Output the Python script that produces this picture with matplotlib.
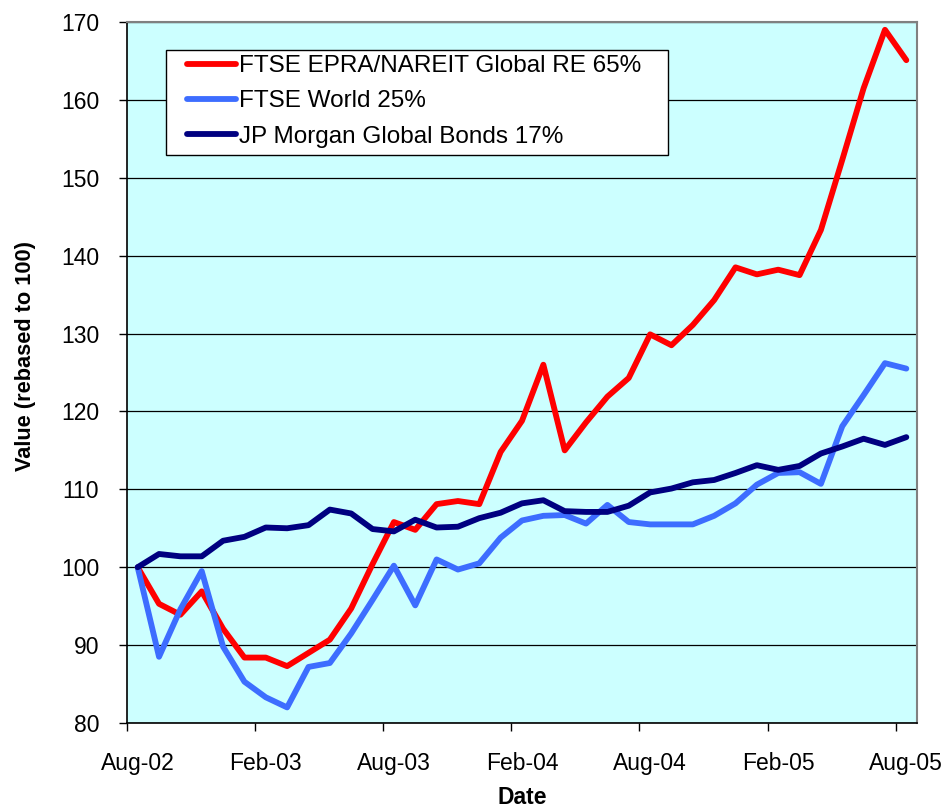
import matplotlib
matplotlib.use("Agg")
import matplotlib.pyplot as plt
from matplotlib.patches import Rectangle
import numpy as np

plt.rcParams['font.family'] = ['Liberation Sans', 'DejaVu Sans']

months = ["Aug-02","Sep-02","Oct-02","Nov-02","Dec-02","Jan-03","Feb-03","Mar-03","Apr-03","May-03",
          "Jun-03","Jul-03","Aug-03","Sep-03","Oct-03","Nov-03","Dec-03","Jan-04","Feb-04","Mar-04",
          "Apr-04","May-04","Jun-04","Jul-04","Aug-04","Sep-04","Oct-04","Nov-04","Dec-04","Jan-05",
          "Feb-05","Mar-05","Apr-05","May-05","Jun-05","Jul-05","Aug-05"]

ftse_epra = [100.0, 95.3, 93.9, 96.9, 92.1, 88.4, 88.4, 87.3, 89.0, 90.7,
             94.7, 100.4, 105.8, 104.8, 108.1, 108.5, 108.1, 114.8, 118.8, 126.0,
             115.0, 118.6, 121.9, 124.3, 129.9, 128.5, 131.1, 134.3, 138.5, 137.6,
             138.2, 137.5, 143.3, 152.3, 161.5, 169.0, 165.1]

ftse_world = [100.0, 88.5, 94.6, 99.5, 89.8, 85.3, 83.3, 82.0, 87.2, 87.7,
              91.5, 95.8, 100.2, 95.1, 101.0, 99.7, 100.5, 103.8, 106.0, 106.6,
              106.7, 105.6, 108.0, 105.8, 105.5, 105.5, 105.5, 106.6, 108.2, 110.6,
              112.1, 112.2, 110.7, 118.1, 122.1, 126.2, 125.5]

jpm_bonds = [100.0, 101.7, 101.4, 101.4, 103.4, 103.9, 105.1, 105.0, 105.4, 107.4,
             106.9, 104.9, 104.6, 106.1, 105.1, 105.2, 106.3, 107.0, 108.2, 108.6,
             107.2, 107.1, 107.1, 107.9, 109.6, 110.1, 110.9, 111.2, 112.1, 113.1,
             112.5, 113.0, 114.6, 115.5, 116.5, 115.7, 116.7]

series_names = ["FTSE EPRA/NAREIT Global RE 65%", "FTSE World 25%", "JP Morgan Global Bonds 17%"]
colors = ["#FF0000", "#3D6DFF", "#000080"]

W, H = 947, 809
fig = plt.figure(figsize=(W/100, H/100), dpi=100)
ax = fig.add_axes([127/W, 1-723/H, (917-127)/W, 701/H])
ax.set_facecolor("#CCFFFF")

x = np.arange(len(months))
for vals, name, c in zip([ftse_epra, ftse_world, jpm_bonds], series_names, colors):
    ax.plot(x, vals, color=c, lw=4.2, label=name, solid_joinstyle='round', solid_capstyle='round')

ax.set_xlim(-0.5, len(months) - 0.5)
ax.set_ylim(80, 170)
ax.set_yticks(np.arange(80, 171, 10))
ax.yaxis.grid(True, color="black", lw=0.9)
ax.set_axisbelow(True)

# category labels every 6 months, tick marks at category boundaries
lab_pos = x[::6]
ax.set_xticks(lab_pos)
ax.set_xticklabels([months[i] for i in lab_pos])
ax.set_xticks(lab_pos - 0.5, minor=True)
ax.tick_params(axis='x', which='major', length=0, pad=21, labelsize=16.5)
ax.tick_params(axis='x', which='minor', length=6, width=1, direction='out')
ax.tick_params(axis='y', length=6, width=1, direction='out', labelsize=16.5, pad=14)

for s in ['top', 'right']:
    ax.spines[s].set_color("#808080")
    ax.spines[s].set_linewidth(1.5)
for s in ['left', 'bottom']:
    ax.spines[s].set_color("black")
    ax.spines[s].set_linewidth(1.2)

fig.text(522/W, 1-797/H, "Date", fontsize=16.5, fontweight='bold', ha='center', va='center')
fig.text(26/W, 1-356/H, "Value (rebased to 100)", fontsize=15.7, fontweight='bold',
         ha='center', va='center', rotation=90)

# legend box drawn separately
box = Rectangle((166/W, 1-155/H), (668-166)/W, (155-50)/H, transform=fig.transFigure,
                facecolor='white', edgecolor='black', lw=1.0, zorder=4)
fig.add_artist(box)
leg = ax.legend(loc='upper left', bbox_to_anchor=(187/W, 1-55/H), bbox_transform=fig.transFigure,
                borderaxespad=0, frameon=False, fontsize=17.5,
                handlelength=2.0, handletextpad=0.12, labelspacing=0.55, borderpad=0)
leg.set_zorder(5)
fig.add_artist(leg)

fig.savefig("out.png", dpi=100)
